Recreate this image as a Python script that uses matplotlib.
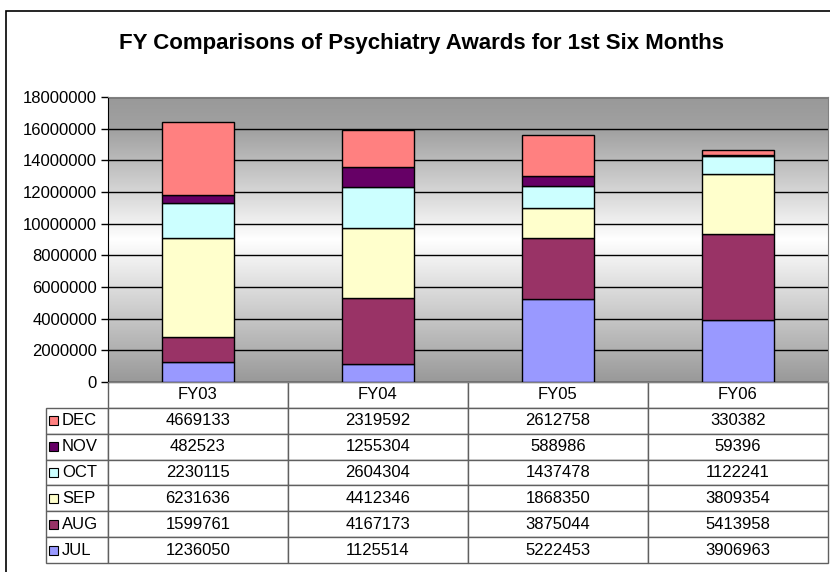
import numpy as np
import matplotlib.pyplot as plt
from matplotlib.patches import Rectangle
from matplotlib.colors import LinearSegmentedColormap

plt.rcParams['font.family'] = ['Liberation Sans', 'DejaVu Sans']

years = ['FY03', 'FY04', 'FY05', 'FY06']
months = ['JUL', 'AUG', 'SEP', 'OCT', 'NOV', 'DEC']
jul = [1236050, 1125514, 5222453, 3906963]
aug = [1599761, 4167173, 3875044, 5413958]
sep = [6231636, 4412346, 1868350, 3809354]
oct_ = [2230115, 2604304, 1437478, 1122241]
nov = [482523, 1255304, 588986, 59396]
dec = [4669133, 2319592, 2612758, 330382]
colors = ['#9999FF', '#993366', '#FFFFCC', '#CCFFFF', '#660066', '#FF8080']

series = [jul, aug, sep, oct_, nov, dec]

W, H = 830, 572
fig = plt.figure(figsize=(W / 100, H / 100), dpi=100)
ax = fig.add_axes([108 / W, 1 - 382 / H, 720 / W, 285 / H])

# outer chart frame
fig.add_artist(Rectangle((6 / W, -0.05), 1.1, 0.05 + 1 - 11 / H, transform=fig.transFigure,
                         fill=False, edgecolor='black', linewidth=1.2))

fig.text(0.508, 1 - 43 / H, 'FY Comparisons of Psychiatry Awards for 1st Six Months',
         ha='center', va='center', fontsize=16, fontweight='bold')

# gradient background of plot area
cmap = LinearSegmentedColormap.from_list('bg', [(0, '#999999'), (0.5, '#FFFFFF'), (0.88, '#a2a2a2'), (1, '#999999')])
grad = np.linspace(1, 0, 256).reshape(-1, 1)
ax.imshow(grad, cmap=cmap, extent=[-0.5, 3.5, 0, 18000000], aspect='auto', zorder=0, vmin=0, vmax=1)

x = np.arange(len(years))
bottom = np.zeros(len(years))
for vals, c in zip(series, colors):
    ax.bar(x, vals, 0.4, bottom=bottom, color=c, edgecolor='black', linewidth=1, zorder=3)
    bottom += np.array(vals)

ax.set_xlim(-0.5, 3.5)
ax.set_ylim(0, 18000000)
ax.set_yticks(np.arange(0, 18000001, 2000000))
ax.set_yticklabels([str(v) for v in range(0, 18000001, 2000000)], fontsize=12)
ax.yaxis.grid(True, color='black', linewidth=1)
for ln in ax.get_ygridlines():
    ln.set_zorder(1)
ax.set_xticks([])
ax.tick_params(axis='y', direction='out', length=5, width=1, color='black', pad=3)
for s in ['top', 'right', 'bottom']:
    ax.spines[s].set_color('#808080')
ax.spines['left'].set_color('black')

# data table below the chart (first column holds the month labels)
rows = months[::-1]
cell_text = [[m] + [str(v) for v in vals] for m, vals in zip(rows, series[::-1])]
tab = ax.table(cellText=cell_text, colLabels=[''] + years,
               cellLoc='center', colWidths=[62 / 720] + [180 / 720] * 4,
               bbox=[-62 / 720, -181 / 285, 782 / 720, 181 / 285])
tab.auto_set_font_size(False)
tab.set_fontsize(12)
for (r, c), cell in tab.get_celld().items():
    cell.set_edgecolor('#606060')
    cell.set_linewidth(1)
    cell.set_facecolor('white')
    if c == 0:
        cell.get_text().set_horizontalalignment('left')
        cell.PAD = 0.26
        if r == 0:
            cell.visible_edges = ''
            cell.set_facecolor('none')

# swatches in the row labels
tbl_h = 181 / 285
for i, c in enumerate(colors[::-1]):
    yc = -tbl_h * (i + 1.5) / 7
    ax.add_patch(Rectangle((-59 / 720, yc - 4.5 / 285), 9 / 720, 9 / 285, transform=ax.transAxes,
                           facecolor=c, edgecolor='black', linewidth=0.8, clip_on=False, zorder=5))

fig.savefig('out.png', dpi=100)
